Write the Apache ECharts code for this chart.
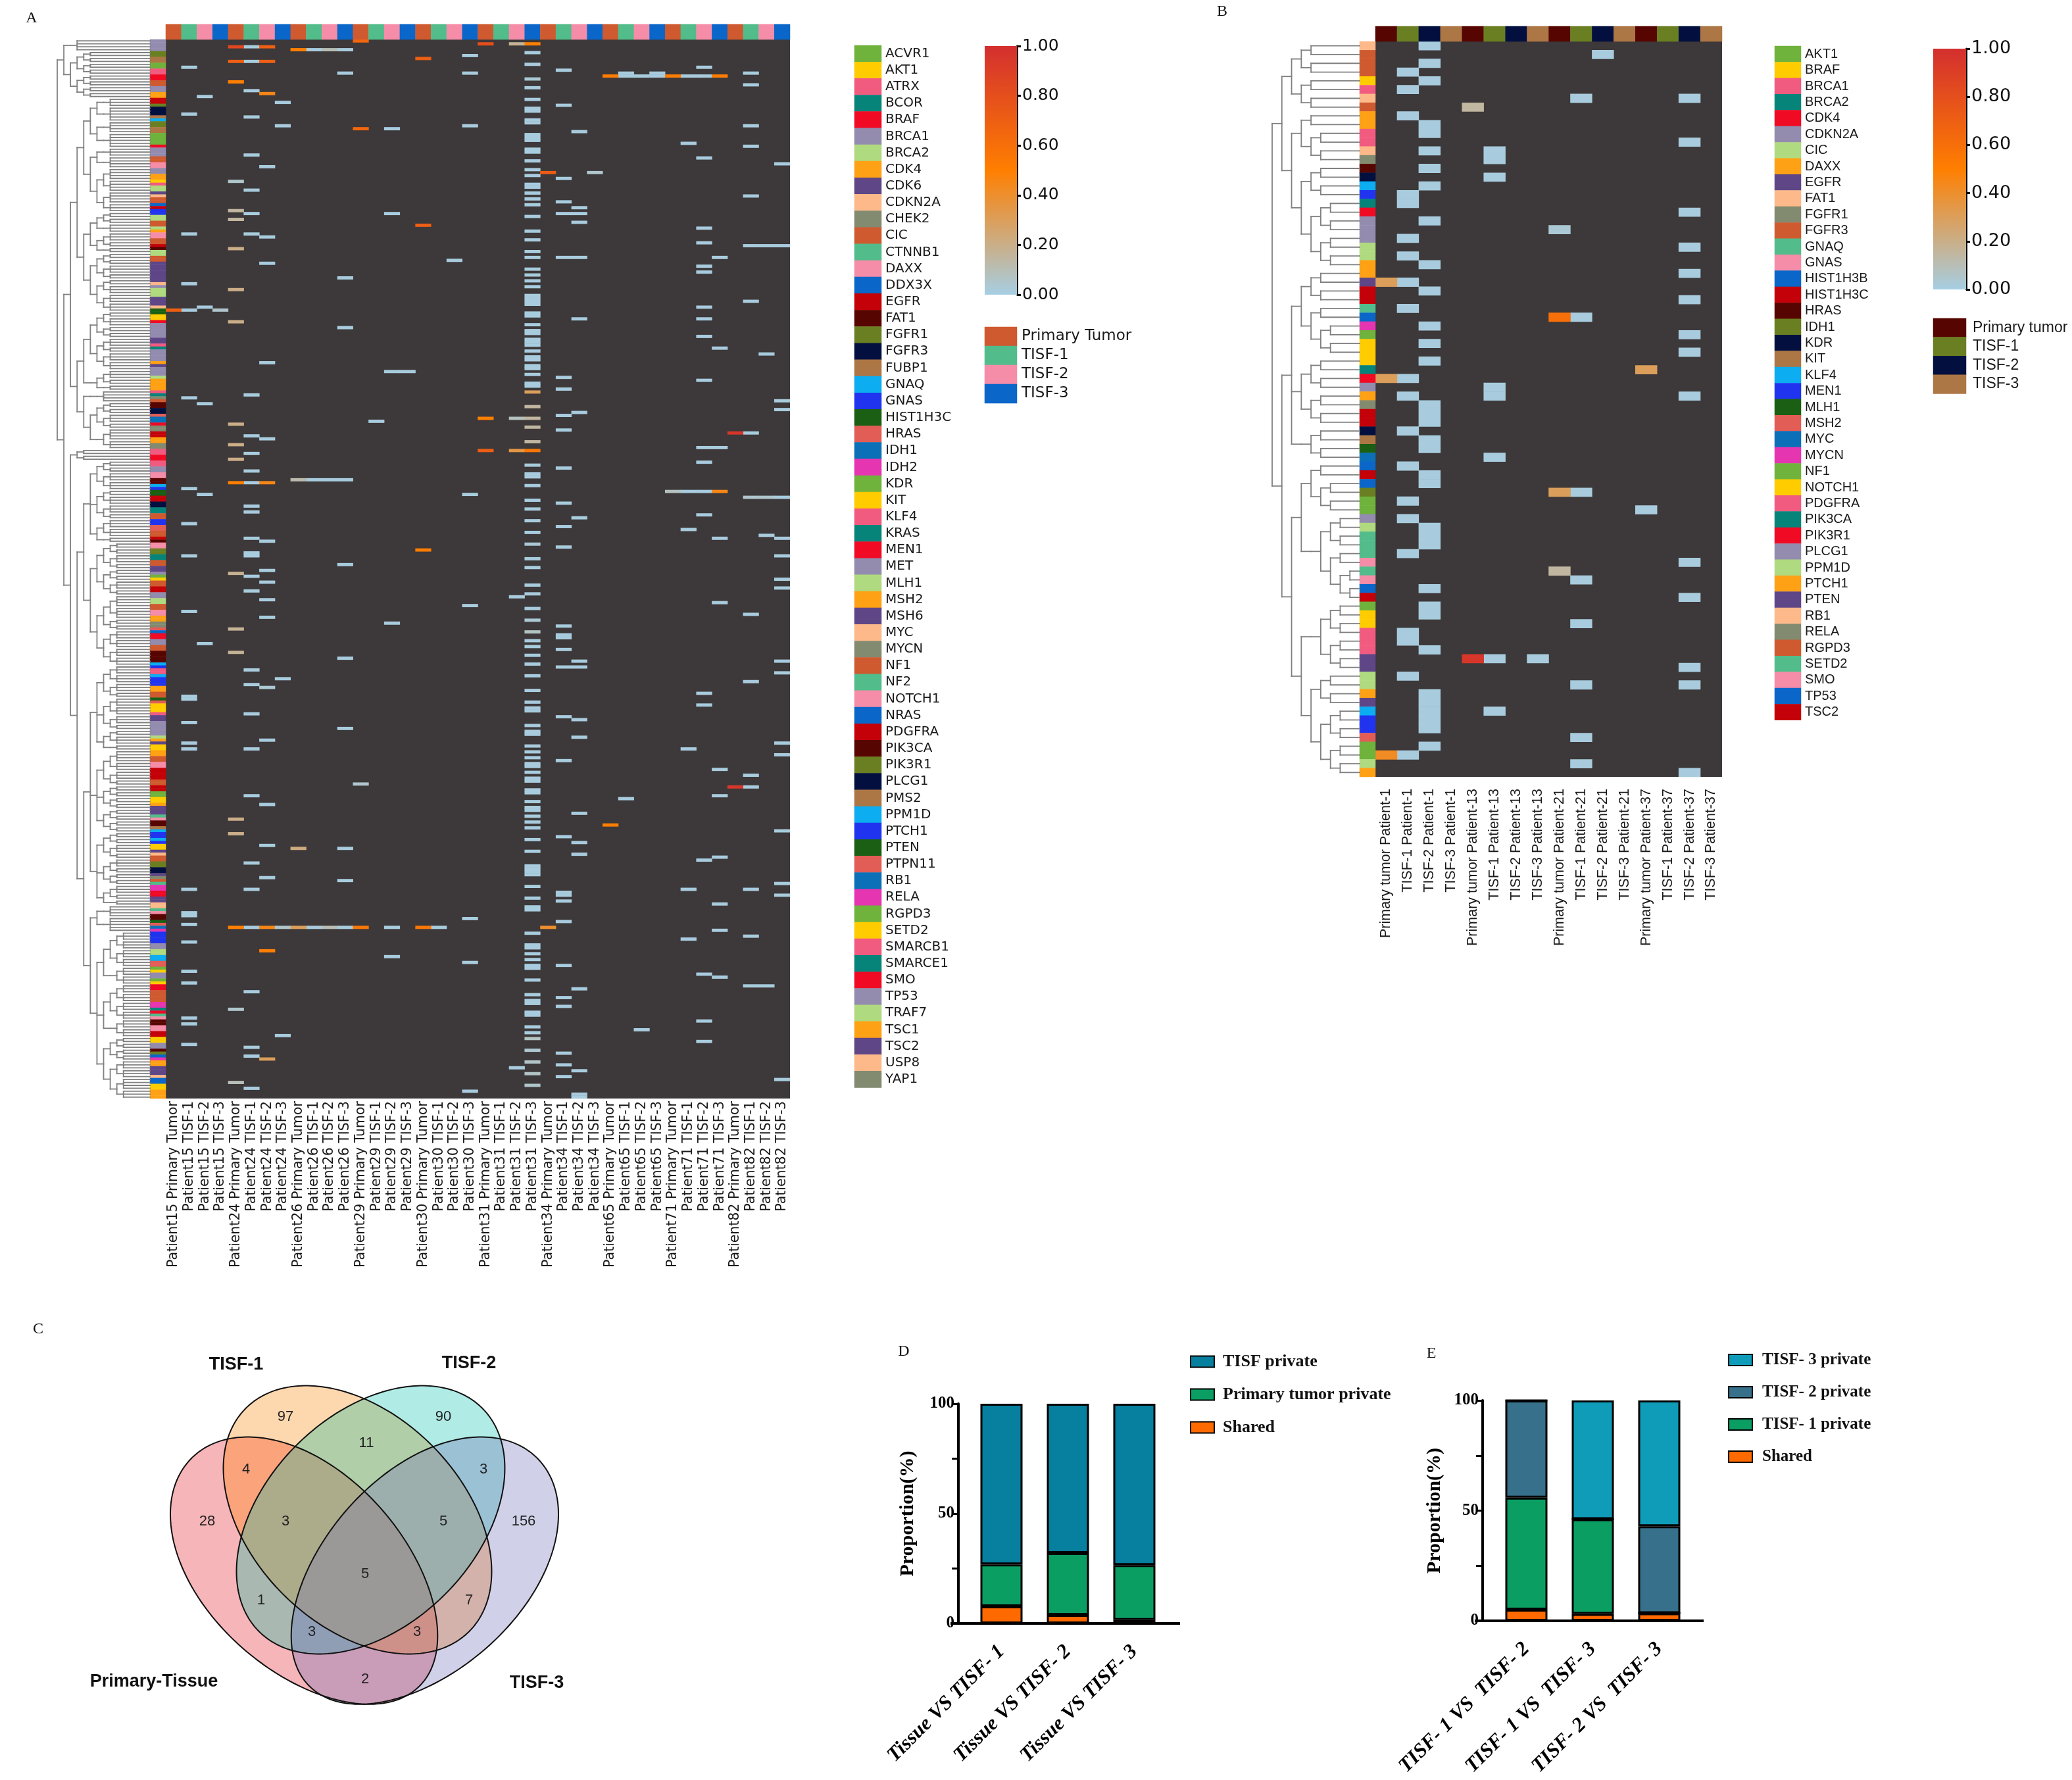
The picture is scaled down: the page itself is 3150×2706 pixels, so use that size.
<!DOCTYPE html>
<html><head><meta charset="utf-8">
<style>html,body{margin:0;padding:0;background:#fff}#c{width:3150px;height:2706px}</style>
<script src="https://cdn.jsdelivr.net/npm/echarts@6/dist/echarts.min.js"></script>
</head><body><div id="c"></div>
<script>
// ---------- shared palette ----------
const palette=['#6fb23c','#ffcc00','#f25b80','#07847a','#f00a24','#938caf','#b0da7f','#ffa115','#5e4687','#fdb989','#828a70','#cf5a2f','#52bc8b','#f58da8','#0a66c9','#c40108','#570500','#6a7f22','#03103f','#ad7645','#0cadf1','#2034f0','#1a5f13','#e35d57','#0b70b8','#e635b1'];
const scaleStops=['#a6cee3','#ff7f00','#d32f2f'];
const colorTicksFmt=2;

// ---------- panel A ----------
const patientsA=['Patient15','Patient24','Patient26','Patient29','Patient30','Patient31','Patient34','Patient65','Patient71','Patient82'];
const samplesA=['Primary Tumor','TISF-1','TISF-2','TISF-3'];
const groupColorsA=[11,12,13,14];
const genesA=['ACVR1','AKT1','ATRX','BCOR','BRAF','BRCA1','BRCA2','CDK4','CDK6','CDKN2A','CHEK2','CIC','CTNNB1','DAXX','DDX3X','EGFR','FAT1','FGFR1','FGFR3','FUBP1','GNAQ','GNAS','HIST1H3C','HRAS','IDH1','IDH2','KDR','KIT','KLF4','KRAS','MEN1','MET','MLH1','MSH2','MSH6','MYC','MYCN','NF1','NF2','NOTCH1','NRAS','PDGFRA','PIK3CA','PIK3R1','PLCG1','PMS2','PPM1D','PTCH1','PTEN','PTPN11','RB1','RELA','RGPD3','SETD2','SMARCB1','SMARCE1','SMO','TP53','TRAF7','TSC1','TSC2','USP8','YAP1'];
const nRowsA=362;
// rows holding a low-frequency (light blue) cell, per column
const blueA={
1:[9,25,66,83,92,122,153,165,176,195,224,225,233,240,242,290,298,299,302,308,318,322,334,336,343],
2:[19,91,124,155,206],
5:[2,7,17,26,39,51,59,66,121,135,141,147,151,159,161,170,175,176,183,188,215,220,230,242,258,281,290,303,325,344,347,358],
6:[43,67,76,110,136,171,181,185,191,197,239,261,275,286],
7:[21,29,218,340],
9:[3,150,303],
10:[150],
11:[3,11,81,98,150,179,211,235,276,287,303],
13:[130],
14:[30,59,113,199,303,313],
15:[113],
17:[303],
18:[75],
19:[5,11,29,155,193,300,315,359],
22:[190,351],
23:[4,8,16,20,23,24,27,28,32,33,34,37,38,41,44,46,49,50,52,54,56,60,65,68,72,74,78,80,82,84,87,88,89,90,93,94,97,99,100,102,103,104,106,108,109,111,112,114,117,118,145,148,149,152,157,160,164,168,177,180,186,189,194,205,207,210,213,217,222,226,228,229,234,236,237,241,243,245,247,248,250,252,253,256,257,260,262,263,265,267,269,273,277,282,283,284,285,289,293,296,297,305,309,310,312,314,316,317,321,326,328,329,332,333,337,339],
25:[10,22,47,55,59,74,115,119,128,133,146,158,166,173,200,203,204,208,214,231,246,272,291,292,294,301,316,327,330,346,350,354],
26:[31,57,59,62,74,95,127,163,212,214,232,238,264,274,278,324,352,360,361],
29:[11,12,259],
30:[12,338],
31:[11,12],
33:[12,35,154,167,242,290,307],
34:[9,12,40,64,69,77,79,91,95,101,116,139,144,154,162,223,227,280,319,335,342],
35:[74,105,139,170,192,249,258,279,295,304,320],
37:[11,15,29,36,53,70,89,134,196,219,251,255,290,306,323],
38:[70,107,169,323],
39:[42,70,123,126,156,170,176,184,187,212,216,240,244,270,288,292,355]
};
// higher frequency cells: [row, column, value]
const hotA=[[0,12,.65],[1,20,.8],[1,22,.17],[1,23,.5],[2,4,.85],[2,6,.7],[3,8,.5],[3,10,.1],[6,16,.7],[7,4,.7],[7,6,.7],[12,28,.52],[12,32,.52],[12,35,.52],[13,23,.03],[14,4,.5],[18,6,.45],[30,12,.65],[45,24,.72],[45,27,.05],[48,4,.05],[58,4,.15],[61,4,.15],[63,16,.7],[71,4,.2],[85,4,.2],[92,0,.7],[92,3,.05],[96,4,.2],[120,23,.3],[125,23,.15],[129,20,.5],[129,22,.08],[129,23,.15],[131,4,.2],[132,23,.15],[134,36,.95],[137,23,.15],[138,4,.2],[140,20,.7],[140,22,.35],[140,23,.55],[143,4,.2],[150,8,.12],[151,4,.5],[151,6,.45],[154,32,.08],[154,35,.45],[156,37,.05],[156,38,.05],[172,23,.03],[174,16,.5],[182,4,.18],[198,23,.03],[201,4,.17],[202,23,.07],[209,4,.17],[221,6,.03],[254,12,.05],[255,36,.95],[266,4,.2],[268,28,.5],[271,4,.2],[276,8,.22],[303,4,.5],[303,6,.45],[303,7,.05],[303,8,.3],[303,10,.1],[303,12,.55],[303,16,.55],[303,24,.4],[311,6,.5],[331,4,.05],[341,23,.07],[345,23,.04],[348,6,.3],[349,23,.06],[353,23,.06],[356,4,.1],[357,23,.05]];
// row annotation: palette index, run length
const rowRunsA=[5,4,17,2,19,2,0,2,2,2,4,2,11,2,5,2,7,2,15,2,17,1,18,3,19,1,20,1,17,2,19,2,0,4,4,1,5,3,11,2,13,2,5,2,7,2,1,1,2,1,6,2,8,1,9,1,11,2,14,1,15,1,21,2,6,2,11,2,6,1,7,1,13,2,11,2,15,1,16,1,6,2,11,2,8,7,9,1,5,1,6,3,8,3,9,1,22,2,1,2,4,1,5,5,8,2,2,1,3,1,5,4,7,1,8,1,5,3,6,1,7,4,
2,1,3,1,10,1,11,1,16,2,18,2,23,1,24,2,4,1,10,2,15,2,7,2,10,2,2,2,4,2,2,2,5,2,13,2,16,2,20,1,21,1,22,2,15,2,18,2,3,2,11,2,21,2,23,2,11,2,15,1,16,1,13,2,17,2,3,2,11,2,8,2,5,1,0,1,1,1,11,2,15,2,5,2,6,2,11,2,13,2,7,2,10,2,23,1,14,1,4,2,5,2,11,2,16,4,20,1,21,1,2,2,20,1,21,3,7,2,11,2,22,1,23,1,1,3,2,1,8,2,5,5,6,1,7,1,
8,1,1,2,7,2,11,2,13,2,15,4,11,2,15,2,0,2,1,2,7,1,8,3,12,1,13,1,16,2,19,1,20,1,21,2,20,1,21,1,1,2,8,1,9,1,11,2,17,2,18,2,8,1,10,1,11,1,12,1,25,2,4,2,8,2,9,2,12,1,13,1,16,2,22,1,23,1,24,1,25,1,21,4,5,2,6,2,20,2,23,2,0,1,1,1,5,2,0,1,1,1,4,2,11,4,25,2,3,1,4,1,12,1,13,1,16,2,13,2,15,2,1,2,5,2,16,1,17,1,14,1,25,1,7,2,8,3,9,1,14,2,1,2,7,3];
// cluster tree: arrays are merges, integers are runs of leaves joined at one height
const treeA=[
 [[4],[[[2,2],[2,2]],[[2,2],[2,2]]]],
 [
  [
   [
    [[[[3],[5]],[[4],[5]]],[[[3],[4]],[[4,4],[4,3]]]],
    [[[[2,2],[3]],[[3,2],[2]]],[[[2,2],[3,2]],[[2,3],[3,3]]]]
   ],
   [
    [[[[2,3],[2,2]],[[3,2],[3,3]]],[[[3,2],[2]]]],
    [[[4]],[[[2,2],[3,2]],[[4,3]]]]
   ]
  ],
  [
   [2,2],
   [
    [
     [[[2,2],[3,3]],[[2,3],[3,2]],[[3,3],[2]]],
     [[[[2,2],[3,2]],[[2,2],[3,2]]],[[[4,4],[2,2]],[[3,3],[3,3]]]]
    ],
    [
     [
      [[[3,3],[3,2]],[[3,3],[3,2]],[[2,3],[2]]],
      [[[4,3],[3,2]],[[2,2],[2,2]],[[2,2],[2,2]]],
      [[[2,2],[3,2]],[[3,2],[2,2]],[[3,2],[2]]]
     ],
     [
      [[4],[5]],
      [[[[3,3],[3,3]],[[3,3]]],[[[3,3],[3,3]],[[3,3]]],[[[2,2],[2,2]],[[3,3],[4,3]]]]
     ]
    ]
   ]
  ]
 ]
];

// ---------- panel B ----------
const patientsB=['Patient-1','Patient-13','Patient-21','Patient-37'];
const samplesB=['Primary tumor','TISF-1','TISF-2','TISF-3'];
const groupColorsB=[16,17,18,19];
const genesB=['AKT1','BRAF','BRCA1','BRCA2','CDK4','CDKN2A','CIC','DAXX','EGFR','FAT1','FGFR1','FGFR3','GNAQ','GNAS','HIST1H3B','HIST1H3C','HRAS','IDH1','KDR','KIT','KLF4','MEN1','MLH1','MSH2','MYC','MYCN','NF1','NOTCH1','PDGFRA','PIK3CA','PIK3R1','PLCG1','PPM1D','PTCH1','PTEN','RB1','RELA','RGPD3','SETD2','SMO','TP53','TSC2'];
const nRowsB=84;
const blueB={
1:[3,5,8,17,18,22,24,27,30,38,40,44,48,52,54,58,67,68,72,81],
2:[0,2,4,9,10,12,14,16,20,25,28,32,34,36,41,42,43,45,46,49,50,55,56,57,62,64,65,69,74,75,76,77,78,80],
5:[12,13,15,39,40,47,70,76],
7:[70],
9:[6,31,51,61,66,73,79,82],
10:[1],
12:[53],
14:[6,11,19,23,26,29,33,35,40,59,63,71,73,83]
};
const hotB=[[27,0,.3],[38,0,.3],[81,0,.42],[7,4,.15],[70,4,.95],[21,8,.03],[31,8,.6],[51,8,.3],[60,8,.15],[37,12,.3]];
const rowRunsB=[9,1,11,3,1,1,2,1,9,1,11,1,7,2,2,2,9,1,10,1,16,1,18,1,20,1,21,1,3,1,4,1,5,3,6,2,7,2,8,1,15,2,12,1,14,1,25,1,0,1,1,3,3,1,4,1,5,1,7,1,10,1,15,2,18,1,19,1,22,1,24,1,14,1,15,1,14,1,17,1,0,2,5,1,6,1,12,3,13,1,12,1,13,1,14,1,15,1,0,1,1,2,2,3,8,2,6,2,7,1,8,1,20,1,21,2,23,1,0,2,6,1,7,1];
const treeB=[
 [[[2,2],[2,2]],[[2,[2,2]],[[2,2],[[2,2],[2,2]]]]],
 [
  [[[2,2],[2,[2,2]]],[[2,2],[2,2]],[[2,2]]],
  [
   [[2,[2,2]],[[[2,2],[2,[2,2]]]]],
   [[[[2,2],[2,2]]],[[2,2],[[2,2],[2,2]]]]
  ]
 ]
];

// ---------- panel C ----------
const vennNames=['Primary-Tissue','TISF-1','TISF-2','TISF-3'];
const vennCounts=[97,90,11,4,3,28,3,5,156,5,1,7,3,3,2];

// ---------- panel D / E ----------
const catsD=['Tissue VS TISF- 1','Tissue VS TISF- 2','Tissue VS TISF- 3'];
const sharedD=[7.8,3.9,1.6];
const primaryD=[19.1,28.1,25];
const tisfD=[73.1,68,73.4];
const catsE=['TISF- 1 VS  TISF- 2','TISF- 1 VS  TISF- 3','TISF- 2 VS  TISF- 3'];
const sharedE=[5.1,3.1,3.4];
const t1E=[50.8,43,0];
const t2E=[44.1,0,39.5];
const t3E=[0,53.9,57.1];

// ---------- option building ----------
const grid=[],xAxis=[],yAxis=[],series=[];
const DJ='DejaVu Sans',LS='Liberation Sans',SE='Liberation Serif';
function addGrid(g,x,y){grid.push(Object.assign({containLabel:false,borderWidth:0},g));
  const i=grid.length-1;
  xAxis.push(Object.assign({gridIndex:i},x));yAxis.push(Object.assign({gridIndex:i},y));return i;}
function catHidden(n,inverse){return {type:'category',show:false,data:Array.from({length:n},(_,i)=>String(i)),inverse:!!inverse};}
function expandRuns(r){const o=[];for(let i=0;i<r.length;i+=2)for(let k=0;k<r[i+1];k++)o.push(r[i]);return o;}
function cellsFrom(blue,hot){const m=new Map();
  Object.keys(blue).forEach(c=>blue[c].forEach(r=>m.set(r+'_'+c,[+c,r,0.01])));
  hot.forEach(h=>m.set(h[0]+'_'+h[1],[h[1],h[0],h[2]]));
  return Array.from(m.values());}
function treeSegs(tree,maxX){let leaf=0;const s=[];
  function comb(n,d){const ys=[];for(let i=0;i<n;i++){const y=leaf+++.5;s.push([d,y,maxX,y]);ys.push(y);}
    s.push([d,ys[0],d,ys[n-1]]);return (ys[0]+ys[n-1])/2;}
  function walk(node,d){if(typeof node==='number')return comb(node,d);
    const ys=node.map(c=>{const y=walk(c,d+1);s.push([d,y,d+1,y]);return y;});
    s.push([d,ys[0],d,ys[ys.length-1]]);return (ys[0]+ys[ys.length-1])/2;}
  walk(tree,0);return s;}
function segItem(p,api){const a=api.coord([api.value(0),api.value(1)]),b=api.coord([api.value(2),api.value(3)]);
  return {type:'line',shape:{x1:a[0],y1:a[1],x2:b[0],y2:b[1]},style:{stroke:'#808080',lineWidth:1.8,lineCap:'square'},silent:true};}
const mainIdx=[],annIdx=[];
function heat(i,data,list){series.push({type:'heatmap',xAxisIndex:i,yAxisIndex:i,data,progressive:0,itemStyle:{borderWidth:0},emphasis:{disabled:true},silent:true});list.push(series.length-1);}

function panel(cfg){
  const cats=[];cfg.patients.forEach(p=>cfg.samples.forEach(s=>cats.push(cfg.label(p,s))));
  const nC=cats.length,nR=cfg.rows;
  let i=addGrid({left:cfg.x0,top:cfg.y0,width:cfg.x1-cfg.x0,height:cfg.y1-cfg.y0,show:true,backgroundColor:'#3d3839'},
    {type:'category',data:cats,position:'bottom',axisLine:{show:false},axisTick:{show:false},splitLine:{show:false},
     axisLabel:{interval:0,rotate:90,fontFamily:cfg.font,fontSize:cfg.catSize,color:'#1a1a1a',margin:cfg.catMargin}},
    catHidden(nR,true));
  heat(i,cfg.cells,mainIdx);
  i=addGrid({left:cfg.x0,top:cfg.headY,width:cfg.x1-cfg.x0,height:cfg.y0-cfg.headY},catHidden(nC),catHidden(1));
  heat(i,cats.map((_,c)=>[c,0,cfg.groupColors[c%4]]),annIdx);
  i=addGrid({left:cfg.annX,top:cfg.y0,width:cfg.x0-cfg.annX,height:cfg.y1-cfg.y0},catHidden(1),catHidden(nR,true));
  heat(i,expandRuns(cfg.runs).slice(0,nR).map((v,r)=>[0,r,v]),annIdx);
  i=addGrid({left:cfg.treeX,top:cfg.y0,width:cfg.annX-cfg.treeX,height:cfg.y1-cfg.y0},
    {type:'value',show:false,min:0,max:cfg.levels},{type:'value',show:false,min:0,max:nR,inverse:true});
  series.push({type:'custom',xAxisIndex:i,yAxisIndex:i,coordinateSystem:'cartesian2d',renderItem:segItem,clip:false,silent:true,
    encode:{x:[0,2],y:[1,3]},data:treeSegs(cfg.tree,cfg.levels)});
  i=addGrid({left:cfg.legX,top:cfg.legY,width:cfg.legW,height:cfg.legStep*cfg.genes.length},catHidden(1),
    {type:'category',inverse:true,position:'right',data:cfg.genes,axisLine:{show:false},axisTick:{show:false},
     axisLabel:{interval:0,fontFamily:cfg.font,fontSize:20,color:'#1a1a1a',margin:6}});
  heat(i,cfg.genes.map((_,k)=>[0,k,k%26]),annIdx);
  i=addGrid({left:cfg.barX,top:cfg.barY,width:cfg.barW,height:cfg.barH},
    {type:'category',show:false,data:['scale']},
    {type:'value',position:'right',min:0,max:1,interval:0.2,splitLine:{show:false},
     axisLine:{show:true,lineStyle:{color:'#000',width:3}},axisTick:{show:true,length:6,lineStyle:{color:'#000',width:3}},
     axisLabel:{fontFamily:DJ,fontSize:cfg.barFont,color:'#111',margin:8,padding:[6,0,0,0],formatter:v=>v.toFixed(colorTicksFmt)}});
  series.push({type:'bar',xAxisIndex:i,yAxisIndex:i,data:[1],barWidth:'100%',silent:true,
    itemStyle:{color:{type:'linear',x:0,y:1,x2:0,y2:0,colorStops:scaleStops.map((c,k)=>({offset:k/2,color:c}))}}});
  i=addGrid({left:cfg.barX,top:cfg.grpY,width:cfg.barW,height:cfg.grpStep*4},catHidden(1),
    {type:'category',inverse:true,position:'right',data:cfg.samples,axisLine:{show:false},axisTick:{show:false},
     axisLabel:{interval:0,fontFamily:cfg.font,fontSize:cfg.grpFont,color:'#1a1a1a',margin:cfg.grpMargin}});
  heat(i,cfg.samples.map((_,k)=>[0,k,cfg.groupColors[k]]),annIdx);
}
panel({patients:patientsA,samples:samplesA,label:(p,s)=>p+' '+s,rows:nRowsA,cells:cellsFrom(blueA,hotA),genes:genesA,groupColors:groupColorsA,runs:rowRunsA,tree:treeA,levels:14,
  x0:252,x1:1201,y0:60,y1:1670,headY:37,annX:228,treeX:87,font:DJ,catSize:20.5,catMargin:4,
  legX:1299,legY:69,legW:41,legStep:25.15,barX:1497,barY:70,barW:49,barH:378,barFont:25,grpY:497,grpStep:29,grpFont:23,grpMargin:7});
panel({patients:patientsB,samples:samplesB,label:(p,s)=>s+' '+p,rows:nRowsB,cells:cellsFrom(blueB,hotB),genes:genesB,groupColors:groupColorsB,runs:rowRunsB,tree:treeB,levels:9,
  x0:2091,x1:2618,y0:63,y1:1181,headY:40,annX:2067,treeX:1934,font:LS,catSize:21.5,catMargin:18,
  legX:2698,legY:70,legW:40,legStep:24.4,barX:2939,barY:74,barW:50,barH:366,barFont:27,grpY:484,grpStep:28.6,grpFont:23,grpMargin:10});

// stacked bars
function stacked(g,cats,defs,offset,nameGap){
  const i=addGrid(g,
   {type:'category',data:cats,axisLine:{lineStyle:{color:'#000',width:4}},axisTick:{alignWithLabel:true,length:14,lineStyle:{color:'#000',width:3}},
    axisLabel:{interval:0,rotate:45,fontFamily:SE,fontStyle:'italic',fontWeight:'bold',fontSize:31,color:'#000',margin:38}},
   {type:'value',min:0,max:100,interval:25,offset:offset,splitLine:{show:false},
    name:'Proportion(%)',nameLocation:'middle',nameGap:nameGap,nameRotate:90,nameTextStyle:{fontFamily:SE,fontWeight:'bold',fontSize:30,color:'#000'},
    axisLine:{show:true,lineStyle:{color:'#000',width:4}},axisTick:{show:true,length:10,lineStyle:{color:'#000',width:3}},
    axisLabel:{fontFamily:SE,fontWeight:'bold',fontSize:25,color:'#000',margin:6,formatter:v=>(v%50===0?String(v):'')}});
  defs.forEach(d=>series.push({type:'bar',name:d[0],data:d[1],stack:'s'+i,xAxisIndex:i,yAxisIndex:i,barWidth:64,silent:true,
    itemStyle:{color:d[2],borderColor:'#000',borderWidth:3}}));
}
const cShared='#ff6a00',cGreen='#0b9e63';
stacked({left:1472,top:2134,width:303,height:334},catsD,[['Shared',sharedD,cShared],['Primary tumor private',primaryD,cGreen],['TISF private',tisfD,'#077f9f']],15,62);
stacked({left:2270,top:2129,width:303,height:335},catsE,[['Shared',sharedE,cShared],['TISF- 1 private',t1E,cGreen],['TISF- 2 private',t2E,'#37708a'],['TISF- 3 private',t3E,'#0f9cb8']],16,58);
const legends=[
 {left:1804,top:2052,orient:'vertical',itemWidth:36,itemHeight:17,itemGap:24,selectedMode:false,icon:'rect',textStyle:{fontFamily:SE,fontWeight:'bold',fontSize:26,color:'#111',padding:[0,0,0,8]},data:['TISF private','Primary tumor private','Shared']},
 {left:2622,top:2050,orient:'vertical',itemWidth:36,itemHeight:17,itemGap:24,selectedMode:false,icon:'rect',textStyle:{fontFamily:SE,fontWeight:'bold',fontSize:25,color:'#111',padding:[0,0,0,10]},data:['TISF- 3 private','TISF- 2 private','TISF- 1 private','Shared']}
];

// Venn: sets are numbered by bit (Primary=1, TISF-1=2, TISF-2=4, TISF-3=8)
const vennShapes=[
 {cx:464.5,cy:2390,a:245,b:150,k:.05,rot:Math.PI/4},
 {cx:543.5,cy:2310.5,a:240,b:160,k:0,rot:Math.PI/4},
 {cx:563.5,cy:2310.5,a:240,b:160,k:0,rot:3*Math.PI/4},
 {cx:643.5,cy:2390,a:245,b:150,k:.05,rot:3*Math.PI/4}];
const regionColors={1:'#f6b5b8',2:'#fdd7ae',4:'#b0ebe5',8:'#d0d0e8',3:'#fba37b',6:'#b0cea8',12:'#9bc1d5',9:'#c99cb8',5:'#a9b9b2',10:'#d3b2ab',7:'#acab8a',14:'#9cafad',13:'#8f9db5',11:'#cd918a',15:'#9a9997'};
function eggPoly(v){const pts=[];const n=240;for(let i=0;i<n;i++){const t=i/n*2*Math.PI,u=v.a*Math.cos(t),w=v.b*Math.sin(t)*(1-v.k*Math.cos(t));
  pts.push([v.cx+u*Math.cos(v.rot)-w*Math.sin(v.rot),v.cy+u*Math.sin(v.rot)+w*Math.cos(v.rot)]);}return pts;}
function clipConvex(sub,clip){let out=sub;const m=clip.length;
  for(let i=0;i<m&&out.length;i++){const A=clip[i],B=clip[(i+1)%m],inp=out;out=[];
    const side=p=>(B[0]-A[0])*(p[1]-A[1])-(B[1]-A[1])*(p[0]-A[0]);
    for(let j=0;j<inp.length;j++){const P=inp[j],Q=inp[(j+1)%inp.length],sp=side(P),sq=side(Q);
      if(sp>=0)out.push(P);
      if((sp>=0)!==(sq>=0)){const f=sp/(sp-sq);out.push([P[0]+(Q[0]-P[0])*f,P[1]+(Q[1]-P[1])*f]);}}}
  return out;}
const vennPolys=vennShapes.map(eggPoly);
const vennMasks=Object.keys(regionColors).map(Number).sort((x,y)=>{const c=z=>z.toString(2).replace(/0/g,'').length;return c(x)-c(y);});
const vennCountPos=[[434,2154],[674,2154],[557,2194],[374,2234],[735,2234],[315,2313],[434,2313],[674,2313],[796,2313],[555,2393],[397,2433],[713,2433],[474,2481],[634,2481],[555,2553]];
const vennNamePos=[[234,2557],[359,2075],[713,2073],[816,2559]];
const letters=[['A',48,28],['B',1858,18],['C',58,2021],['D',1374,2055],['E',2176,2058]];
const graphic=[];
vennMasks.forEach(mask=>{let poly=null;vennPolys.forEach((p,k)=>{if(mask>>k&1)poly=poly?clipConvex(poly,p):p;});
  if(poly&&poly.length)graphic.push({type:'polygon',silent:true,z:5,shape:{points:poly},style:{fill:regionColors[mask],stroke:regionColors[mask],lineWidth:.5}});});
vennPolys.forEach(p=>graphic.push({type:'polygon',silent:true,z:6,shape:{points:p},style:{fill:'none',stroke:'#111',lineWidth:2}}));
vennCounts.forEach((n,k)=>graphic.push({type:'text',x:vennCountPos[k][0],y:vennCountPos[k][1],silent:true,z:10,style:{text:String(n),fill:'#222',font:'22px "Liberation Sans"',textAlign:'center',textVerticalAlign:'middle'}}));
vennNames.forEach((n,k)=>graphic.push({type:'text',x:vennNamePos[k][0],y:vennNamePos[k][1],silent:true,z:10,style:{text:n,fill:'#111',font:'bold 27px "Liberation Sans"',textAlign:'center',textVerticalAlign:'middle'}}));
letters.forEach(l=>graphic.push({type:'text',x:l[1],y:l[2],silent:true,style:{text:l[0],fill:'#111',font:'24px "Liberation Serif"',textAlign:'center',textVerticalAlign:'middle'}}));
graphic.push({type:'line',silent:true,shape:{x1:1445,y1:2468,x2:1794,y2:2468},style:{stroke:'#000',lineWidth:4}});
graphic.push({type:'line',silent:true,shape:{x1:2242,y1:2464,x2:2590,y2:2464},style:{stroke:'#000',lineWidth:4}});

const visualMap=[
 {type:'continuous',show:false,min:0,max:1,dimension:2,seriesIndex:mainIdx,inRange:{color:scaleStops}},
 {type:'piecewise',show:false,dimension:2,seriesIndex:annIdx,pieces:palette.map((c,k)=>({value:k,color:c}))}
];
const chart=echarts.init(document.getElementById('c'),null,{renderer:'canvas',width:3150,height:2706});
chart.setOption({animation:false,backgroundColor:'#fff',tooltip:{show:false},grid,xAxis,yAxis,series,visualMap,legend:legends,graphic:{elements:graphic}});
</script></body></html>
